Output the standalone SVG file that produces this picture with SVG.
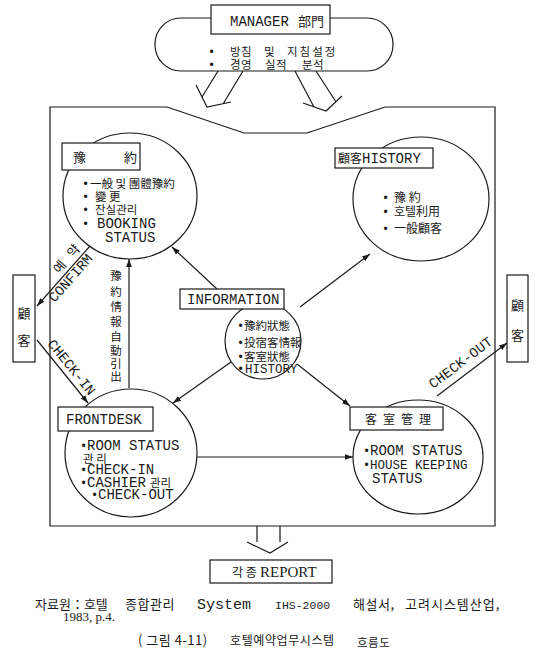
<svg xmlns="http://www.w3.org/2000/svg" width="542" height="666" viewBox="0 0 542 666">
<style>
.s{fill:none;stroke:#1a1a1a;stroke-width:1.2}
.b{fill:#fff;stroke:#1a1a1a;stroke-width:1.2}
.c{fill:#fff;stroke:#1a1a1a;stroke-width:1.2}
text{fill:#1a1a1a}
.m{font-family:"Liberation Mono","Noto Sans CJK KR",monospace;font-size:14px}
.k{font-family:"Noto Sans CJK KR","Liberation Mono",sans-serif;font-size:12px}
.k11{font-family:"Noto Sans CJK KR","Liberation Mono",sans-serif;font-size:11.5px}
.k13{font-family:"Noto Sans CJK KR","Liberation Mono",sans-serif;font-size:13px}
.r{font-family:"Liberation Serif","Noto Sans CJK KR",serif;font-size:15px}
.d{font-family:"Liberation Mono",monospace;font-size:12px}
</style>
<defs>
<marker id="ah" viewBox="0 0 10 10" refX="10" refY="5" markerWidth="8" markerHeight="8" markerUnits="userSpaceOnUse" orient="auto">
<path d="M0,1.5 L10,5 L0,8.5 z" fill="#1a1a1a"/>
</marker>
</defs>
<rect width="542" height="666" fill="#fff"/>

<g id="frame">
<path class="s" d="M50,107 L167,107 L244,133 L307,133 L385,107 L495,107 L495,526 L50,526 Z"/>
</g>

<g id="manager">
<rect class="b" x="155" y="18" width="238" height="53" rx="26" ry="26"/>
<rect class="b" x="211" y="5" width="119" height="29"/>
<text class="m" x="230" y="26">MANAGER<tspan class="k13" x="298">部門</tspan></text>
<text class="k11" y="56"><tspan class="d" x="208">•</tspan><tspan x="230" letter-spacing="0.5">방침</tspan><tspan x="264">및</tspan><tspan x="287" letter-spacing="2">지침설정</tspan></text>
<text class="k11" y="69"><tspan class="d" x="208">•</tspan><tspan x="230" letter-spacing="0.5">경영</tspan><tspan x="265" letter-spacing="0.5">실적</tspan><tspan x="302" letter-spacing="0.5">분석</tspan></text>
</g>

<g id="manager-arrows">
<path class="s" d="M218,71 L202,97 M196,85 L207,107 L231,102 M243,71 L223,104"/>
<path class="s" d="M295,71 L314,107 M303,103 L326,111 L342,96 M316,71 L336,102"/>
</g>

<g id="reservation">
<ellipse class="c" cx="130" cy="196" rx="67" ry="63"/>
<rect class="b" x="62" y="143" width="78" height="27"/>
<text class="k13" x="73" y="162">豫<tspan x="124">約</tspan></text>
<text class="k11" y="188"><tspan class="d" x="82">•</tspan><tspan x="90">一般 및 團體豫約</tspan></text>
<text class="k11" y="200.5"><tspan class="d" x="82">•</tspan><tspan x="95">變 更</tspan></text>
<text class="k11" y="214"><tspan class="d" x="82">•</tspan><tspan x="95">잔실관리</tspan></text>
<text class="m" y="228"><tspan class="d" x="82">•</tspan><tspan x="97">BOOKING</tspan></text>
<text class="m" x="105" y="242">STATUS</text>
</g>

<g id="history">
<ellipse class="c" cx="421" cy="199" rx="68" ry="62"/>
<rect class="b" x="335" y="148" width="98" height="20"/>
<text class="k" x="338" y="163">顧客<tspan class="m" x="362">HISTORY</tspan></text>
<text class="k" y="202"><tspan class="d" x="382">•</tspan><tspan x="394">豫 約</tspan></text>
<text class="k" y="216"><tspan class="d" x="382">•</tspan><tspan x="394">호텔利用</tspan></text>
<text class="k" y="233"><tspan class="d" x="382">•</tspan><tspan x="394">一般顧客</tspan></text>
</g>

<g id="information">
<circle class="c" cx="263" cy="341" r="38"/>
<rect class="b" x="180" y="289" width="104" height="20"/>
<text class="m" x="187" y="304">INFORMATION</text>
<text class="k11" y="330"><tspan class="d" x="237">•</tspan><tspan x="244">豫約狀態</tspan></text>
<text class="k11" y="346.5"><tspan class="d" x="237">•</tspan><tspan x="244">投宿客情報</tspan></text>
<text class="k11" y="360.5"><tspan class="d" x="237">•</tspan><tspan x="244">客室狀態</tspan></text>
<text class="m" y="373" style="font-size:12.5px"><tspan class="d" x="237">•</tspan><tspan x="245">HISTORY</tspan></text>
</g>

<g id="frontdesk">
<ellipse class="c" cx="131" cy="453" rx="66" ry="64"/>
<rect class="b" x="58" y="407" width="95" height="24"/>
<text class="m" x="66" y="424">FRONTDESK</text>
<text class="m" y="450"><tspan class="d" x="80">•</tspan><tspan x="87">ROOM STATUS</tspan></text>
<text class="k11" x="83" y="462.5">관 리</text>
<text class="m" y="474"><tspan class="d" x="80">•</tspan><tspan x="87">CHECK-IN</tspan></text>
<text class="m" y="487"><tspan class="d" x="80">•</tspan><tspan x="87">CASHIER</tspan><tspan class="k11" x="150">관리</tspan></text>
<text class="m" y="499"><tspan class="d" x="91">•</tspan><tspan x="98">CHECK-OUT</tspan></text>
</g>

<g id="rooms">
<ellipse class="c" cx="418" cy="457" rx="65" ry="57"/>
<rect class="b" x="350" y="407" width="93" height="23"/>
<text class="k" x="365" y="424">客<tspan x="383">室</tspan><tspan x="401">管</tspan><tspan x="419">理</tspan></text>
<text class="m" y="455"><tspan class="d" x="363">•</tspan><tspan x="370">ROOM STATUS</tspan></text>
<text class="m" y="469" style="font-size:12.5px"><tspan class="d" x="363">•</tspan><tspan x="370">HOUSE KEEPING</tspan></text>
<text class="m" x="372" y="483">STATUS</text>
</g>

<g id="customer-left">
<rect class="b" x="13" y="275" width="22" height="87"/>
<text class="k13" x="24" y="318" text-anchor="middle">顧</text>
<text class="k13" x="24" y="345" text-anchor="middle">客</text>
</g>

<g id="customer-right">
<rect class="b" x="507" y="275" width="21" height="87"/>
<text class="k13" x="517.5" y="310" text-anchor="middle">顧</text>
<text class="k13" x="517.5" y="340" text-anchor="middle">客</text>
</g>

<g id="report">
<rect class="b" x="210" y="560" width="122" height="23"/>
<text class="k" x="232" y="577">각 종<tspan class="r" x="260">REPORT</tspan></text>
</g>

<g id="connectors">
<line class="s" x1="90" y1="246" x2="37" y2="306" marker-end="url(#ah)"/>
<line class="s" x1="37" y1="340" x2="88" y2="403" marker-end="url(#ah)"/>
<line class="s" x1="129" y1="388" x2="129" y2="259" marker-end="url(#ah)"/>
<line class="s" x1="217" y1="289" x2="172" y2="247" marker-end="url(#ah)"/>
<line class="s" x1="300" y1="307" x2="370" y2="254" marker-end="url(#ah)"/>
<line class="s" x1="231" y1="362" x2="173" y2="403" marker-end="url(#ah)"/>
<line class="s" x1="297" y1="364" x2="350" y2="406" marker-end="url(#ah)"/>
<line class="s" x1="197" y1="457" x2="353" y2="457" marker-end="url(#ah)"/>
<line class="s" x1="437" y1="396" x2="507" y2="343" marker-end="url(#ah)"/>
<path class="s" d="M257,526 L257,542 M280,526 L280,542 M247,542 L270,553 L288,542"/>
<text class="m" x="74" y="281" text-anchor="middle" transform="rotate(-48.7 74 281)">CONFIRM</text>
<text class="k13" x="70" y="262" text-anchor="middle" transform="rotate(-48.7 70 262)">예<tspan dx="9">약</tspan></text>
<text class="m" x="68" y="370" text-anchor="middle" transform="rotate(51 68 370)">CHECK-IN</text>
<text class="m" x="433" y="389" transform="rotate(-37 433 389)">CHECK-OUT</text>
<g class="k11" text-anchor="middle">
<text x="116" y="280">豫</text>
<text x="116" y="296">約</text>
<text x="116" y="311">情</text>
<text x="116" y="326">報</text>
<text x="116" y="341">自</text>
<text x="116" y="355">動</text>
<text x="116" y="368">引</text>
<text x="116" y="381">出</text>
</g>
</g>

<g id="caption">
<text class="k13" y="609"><tspan x="35">자료원：호텔</tspan><tspan x="125" letter-spacing="0.5">종합관리</tspan><tspan class="m" x="197" style="font-size:15px">System</tspan><tspan class="m" x="275" style="font-size:11.5px">IHS-2000</tspan><tspan x="353" letter-spacing="0.5">해설서,</tspan><tspan x="405" letter-spacing="1">고려시스템산업,</tspan></text>
<text class="r" x="63" y="621" style="font-size:13px">1983, p.4.</text>
<text class="k13" y="645"><tspan x="138" letter-spacing="0.5">( 그림 4-11)</tspan><tspan class="k" x="230" letter-spacing="0.6">호텔예약업무시스템</tspan><tspan class="k11" x="357" dy="2" letter-spacing="0.5">흐름도</tspan></text>
</g>
</svg>
